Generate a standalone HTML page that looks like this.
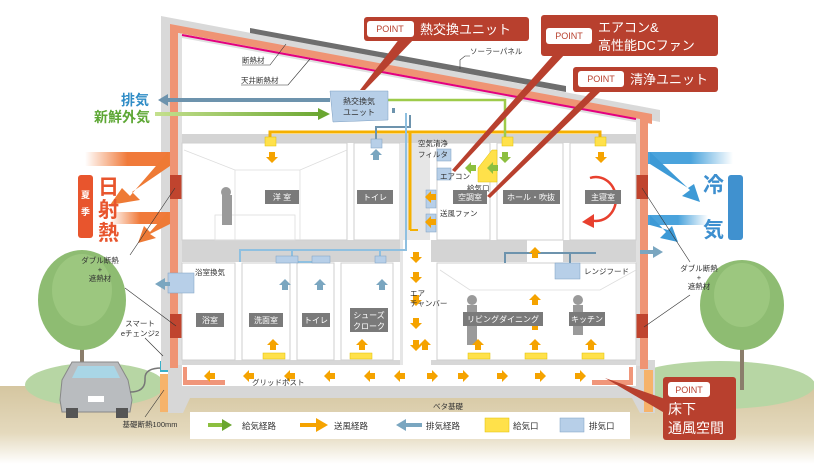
<!DOCTYPE html>
<html><head><meta charset="utf-8"><style>
html,body{margin:0;padding:0;background:#fff}
svg{display:block}
text{font-family:"Liberation Sans","Noto Sans CJK JP",sans-serif}
</style></head><body>
<svg width="814" height="464" viewBox="0 0 814 464" xmlns="http://www.w3.org/2000/svg">
<defs>
<linearGradient id="gnd" x1="0" y1="0" x2="0" y2="1"><stop offset="0" stop-color="#d5c6a0"/><stop offset="0.6" stop-color="#e4d9bd"/><stop offset="1" stop-color="#fff"/></linearGradient>
<linearGradient id="orL" x1="0" y1="0" x2="1" y2="0"><stop offset="0" stop-color="#f07a3a" stop-opacity="0"/><stop offset="0.5" stop-color="#f07a3a"/></linearGradient>
<linearGradient id="blR" x1="1" y1="0" x2="0" y2="0"><stop offset="0" stop-color="#4aa3dc" stop-opacity="0"/><stop offset="0.5" stop-color="#4aa3dc"/></linearGradient>
<linearGradient id="grn" x1="0" y1="0" x2="1" y2="0"><stop offset="0" stop-color="#c4e08e"/><stop offset="1" stop-color="#6aa630"/></linearGradient>
<path id="ad" d="M-3,0 L3,0 L3,5 L6,5 L0,11 L-6,5 L-3,5 Z"/>
</defs>
<!-- ground -->
<rect x="0" y="386" width="814" height="78" fill="url(#gnd)"/>
<ellipse cx="95" cy="385" rx="70" ry="22" fill="#b7d6a4"/>
<ellipse cx="720" cy="385" rx="95" ry="24" fill="#b7d6a4"/>
<rect x="80" y="300" width="4" height="90" fill="#8a7d6b"/>
<ellipse cx="82" cy="300" rx="44" ry="50" fill="#8ebc72"/>
<ellipse cx="82" cy="290" rx="30" ry="36" fill="#9cc77f"/>
<rect x="740" y="300" width="4" height="90" fill="#8a7d6b"/>
<ellipse cx="742" cy="305" rx="42" ry="45" fill="#8ebc72"/>
<ellipse cx="742" cy="295" rx="28" ry="32" fill="#9cc77f"/>
<!-- car -->
<path d="M62 380 L72 362 L118 362 L128 380 L132 400 L130 412 L62 412 L60 400 Z" fill="#b9bcbf" stroke="#888" stroke-width="1"/>
<path d="M72 378 L78 366 L114 366 L120 378 Z" fill="#a9d6e6"/>
<rect x="66" y="408" width="12" height="10" fill="#555"/><rect x="116" y="408" width="12" height="10" fill="#555"/>
<rect x="88" y="396" width="16" height="6" fill="#fff"/>
<path d="M130 392 Q145 392 145 380 L145 378 Q145 368 162 368" fill="none" stroke="#777" stroke-width="1.5"/>
<rect x="160" y="361" width="9" height="11" fill="#3ab0c8"/>
<rect x="160" y="374" width="8" height="38" fill="#f6b36b"/>

<!-- foundation -->
<path d="M168 360 L655 360 L655 413 L640 413 L632 398 L190 398 L183 413 L168 413 Z" fill="#d7d7d7"/>
<rect x="182" y="365" width="454" height="21" fill="#fff"/>
<path d="M183 367 L187 367 L187 380 L225 380 L225 385 L183 385 Z" fill="#f0967a"/>
<path d="M633 367 L629 367 L629 380 L592 380 L592 385 L633 385 Z" fill="#f0967a"/>
<rect x="644" y="370" width="9" height="42" fill="#f6b36b"/>

<!-- roof & walls -->
<polygon points="161,16 660,110 660,122 170,28 170,370 161,370" fill="#d9d9d9"/>
<polygon points="170,24 652,114 652,124 178,33 178,368 170,368" fill="#ef9474"/>
<rect x="640" y="114" width="8" height="255" fill="#ef9474"/>
<polygon points="178,33 640,119 640,123 182,38 182,365 178,365" fill="#e0e0e0"/>
<rect x="636" y="120" width="4" height="246" fill="#e0e0e0"/>
<polygon points="250,28 566,86 566,92 250,33" fill="#6e6e6e"/>
<line x1="182" y1="35" x2="636" y2="119" stroke="#e4007f" stroke-width="2"/>
<rect x="170" y="175" width="12" height="24" fill="#c0442e"/>
<rect x="170" y="314" width="12" height="24" fill="#c0442e"/>
<rect x="636" y="175" width="12" height="24" fill="#c0442e"/>
<rect x="636" y="314" width="12" height="24" fill="#c0442e"/>

<rect x="182" y="134" width="454" height="9" fill="#d4d4d4"/>
<rect x="182" y="240" width="454" height="22" fill="#d4d4d4"/>
<rect x="527" y="240" width="36" height="22" fill="#fff"/>
<g fill="#fff" stroke="#cfcfcf">
<rect x="182" y="143" width="165" height="97"/>
<rect x="354" y="143" width="46" height="97"/>
<rect x="437" y="143" width="53" height="97"/>
<rect x="497" y="143" width="66" height="97"/>
<rect x="570" y="143" width="66" height="97"/>
<rect x="182" y="263" width="53" height="97"/>
<rect x="242" y="263" width="48" height="97"/>
<rect x="297" y="263" width="37" height="97"/>
<rect x="341" y="263" width="52" height="97"/>
<rect x="437" y="263" width="199" height="97"/>
</g>
<rect x="400" y="143" width="30" height="222" fill="#e6e6e6"/>
<rect x="403" y="240" width="28" height="125" fill="#fff"/>
<g fill="none" stroke="#ddd" stroke-width="0.8">
<polyline points="184,150 235,170 300,170 347,150"/><line x1="235" y1="170" x2="235" y2="240"/><line x1="300" y1="170" x2="300" y2="240"/>
<rect x="215" y="215" width="80" height="25"/>
<polyline points="440,270 470,290 600,290 636,270"/>
</g>
<g fill="#9a9a9a">
<rect x="222" y="195" width="10" height="30"/><circle cx="226" cy="192" r="5"/>
<rect x="467" y="305" width="10" height="40"/><circle cx="472" cy="300" r="5"/>
<rect x="573" y="305" width="10" height="30"/><circle cx="578" cy="300" r="5"/>
</g>

<g fill="none" stroke-width="3">
<polyline points="270,145 270,132 600,132 600,145" stroke="#f5b000"/>
<polyline points="410,132 410,230" stroke="#f5b000"/>
<polyline points="410,230 418,230" stroke="#f5b000" stroke-width="2"/>
<polyline points="376,145 376,127 410,127 410,115" stroke="#6d93ad" stroke-width="2"/>
<polyline points="406,113 406,250 240,250 240,262" stroke="#8fc0e0" stroke-width="2"/>
<polyline points="292,250 292,262 322,262" stroke="#8fc0e0" stroke-width="2"/>
<polyline points="380,250 380,262" stroke="#8fc0e0" stroke-width="2"/>
<polyline points="388,100 505,100 505,138" stroke="#9ecb4a" stroke-width="2.5"/>
<polyline points="505,263 505,253 570,253 570,270" stroke="#6d93ad" stroke-width="2"/>
<polyline points="570,253 596,253" stroke="#6d93ad" stroke-width="2"/>
</g>
<g fill="#ffe14a" stroke="#e0c000" stroke-width="0.5">
<rect x="265" y="137" width="11" height="9"/><rect x="502" y="137" width="11" height="9"/><rect x="595" y="137" width="11" height="9"/>
<rect x="263" y="353" width="22" height="6"/><rect x="350" y="353" width="22" height="6"/>
<rect x="468" y="353" width="22" height="6"/><rect x="525" y="353" width="22" height="6"/><rect x="582" y="353" width="22" height="6"/>
<polygon points="478,168 492,150 497,150 497,182 478,182"/>
</g>
<g fill="#b7cfe8" stroke="#7d9fc2" stroke-width="0.5">
<rect x="371" y="139" width="11" height="9"/>
<rect x="276" y="256" width="22" height="7"/><rect x="312" y="256" width="18" height="7"/><rect x="375" y="256" width="11" height="7"/>
<rect x="437" y="149" width="14" height="12"/><rect x="437" y="168" width="14" height="12"/>
<rect x="426" y="190" width="10" height="18"/><rect x="426" y="214" width="10" height="18"/>
<rect x="168" y="273" width="26" height="20"/>
<rect x="555" y="263" width="25" height="16"/>
<path d="M330 91 L388 91 L388 120 L333 122 Z"/>
</g>
<text x="359" y="104" font-size="8" text-anchor="middle" fill="#333">熱交換気</text>
<text x="359" y="115" font-size="8" text-anchor="middle" fill="#333">ユニット</text>

<g fill="#f5a300">
<use href="#ad" x="272" y="152"/><use href="#ad" x="601" y="152"/>
<use href="#ad" x="416" y="252"/><use href="#ad" x="416" y="272"/><use href="#ad" x="416" y="295"/><use href="#ad" x="416" y="318"/><use href="#ad" x="416" y="340"/>
</g>
<g fill="#f5a300" transform="rotate(180)">
<use href="#ad" x="-425" y="-350"/><use href="#ad" x="-478" y="-350"/><use href="#ad" x="-535" y="-350"/><use href="#ad" x="-591" y="-350"/><use href="#ad" x="-535" y="-258"/><use href="#ad" x="-535" y="-305"/><use href="#ad" x="-535" y="-330"/><use href="#ad" x="-362" y="-350"/><use href="#ad" x="-273" y="-350"/>
</g>
<g fill="#f5a300">
<use href="#ad" transform="translate(215,376) rotate(90)"/><use href="#ad" transform="translate(254,376) rotate(90)"/><use href="#ad" transform="translate(295,376) rotate(90)"/><use href="#ad" transform="translate(335,376) rotate(90)"/><use href="#ad" transform="translate(375,376) rotate(90)"/><use href="#ad" transform="translate(405,376) rotate(90)"/>
<use href="#ad" transform="translate(458,376) rotate(-90)"/><use href="#ad" transform="translate(497,376) rotate(-90)"/><use href="#ad" transform="translate(535,376) rotate(-90)"/><use href="#ad" transform="translate(575,376) rotate(-90)"/><use href="#ad" transform="translate(427,376) rotate(-90)"/>
<use href="#ad" transform="translate(436,197) rotate(90)"/><use href="#ad" transform="translate(436,222) rotate(90)"/>
</g>
<g fill="#8cbf3f">
<use href="#ad" x="505" y="152"/>
<use href="#ad" transform="translate(498,168) rotate(90)"/><use href="#ad" transform="translate(476,168) rotate(90)"/>
</g>
<g fill="#7aa6c0">
<use href="#ad" transform="translate(376,160) rotate(180)"/>
<use href="#ad" transform="translate(285,290) rotate(180)"/><use href="#ad" transform="translate(320,290) rotate(180)"/><use href="#ad" transform="translate(382,290) rotate(180)"/>
</g>
<rect x="165" y="98" width="165" height="4" fill="#6d93ad"/>
<polygon points="158,100 168,94 168,106" fill="#6d93ad"/>
<rect x="155" y="112" width="170" height="4" fill="url(#grn)"/>
<polygon points="330,114 318,108 318,120" fill="#6aa630"/>
<rect x="392" y="108" width="3" height="5" fill="#6d93ad"/>
<polygon points="155,284 165,278 165,290" fill="#7aa6c0"/><rect x="165" y="282" width="5" height="4" fill="#7aa6c0"/>
<polygon points="663,252 653,246 653,258" fill="#7aa6c0"/><rect x="640" y="250" width="14" height="4" fill="#7aa6c0"/>

<path d="M590 178 A20 22 0 1 1 590 220" fill="none" stroke="#e8402e" stroke-width="2.5"/>
<polygon points="582,222 594,214 594,228" fill="#e8402e"/>

<rect x="85" y="152" width="85" height="14" fill="url(#orL)"/>
<polygon points="168,152 130,196 122,188 110,205 140,200 132,192 170,166" fill="#ee7a35"/>
<rect x="110" y="212" width="60" height="12" fill="url(#orL)"/>
<polygon points="168,212 150,232 144,226 138,243 156,238 150,234 170,224" fill="#ee7a35"/>
<rect x="78" y="175" width="15" height="63" rx="3" fill="#e8552d"/>
<text x="85.5" y="198" font-size="9" fill="#fff" text-anchor="middle" font-weight="bold">夏</text>
<text x="85.5" y="215" font-size="9" fill="#fff" text-anchor="middle" font-weight="bold">季</text>
<g font-size="21" fill="#e8552d" font-weight="bold"><text x="98" y="194">日</text><text x="98" y="217">射</text><text x="98" y="240">熱</text></g>
<rect x="648" y="152" width="85" height="12" fill="url(#blR)"/>
<polygon points="650,152 690,190 682,196 700,202 694,184 688,188 650,164" fill="#3d9ad6"/>
<rect x="648" y="215" width="60" height="10" fill="url(#blR)"/>
<polygon points="650,215 666,232 660,238 678,242 672,226 668,230 650,225" fill="#3d9ad6"/>
<rect x="728" y="175" width="15" height="65" rx="3" fill="#4091cf"/>
<g font-size="21" fill="#3d8fcf" font-weight="bold"><text x="703" y="192">冷</text><text x="703" y="237">気</text></g>

<text x="135" y="105" font-size="14" fill="#2f8cc6" font-weight="bold" text-anchor="middle">排気</text>
<text x="122" y="122" font-size="14" fill="#5da734" font-weight="bold" text-anchor="middle">新鮮外気</text>

<g font-size="7.5" fill="#333">
<text x="242" y="63">断熱材</text><text x="241" y="83">天井断熱材</text>
<text x="470" y="54">ソーラーパネル</text>
<text x="418" y="146">空気清浄</text><text x="418" y="157">フィルタ</text>
<text x="440" y="179">エアコン</text><text x="467" y="191">給気口</text>
<text x="440" y="216">送風ファン</text>
<text x="410" y="296">エア</text><text x="410" y="306">チャンバー</text>
<text x="195" y="275">浴室換気</text>
<text x="584" y="274">レンジフード</text>
<text x="100" y="263" text-anchor="middle">ダブル断熱</text><text x="100" y="272" text-anchor="middle">+</text><text x="100" y="281" text-anchor="middle">遮熱材</text>
<text x="699" y="271" text-anchor="middle">ダブル断熱</text><text x="699" y="280" text-anchor="middle">+</text><text x="699" y="289" text-anchor="middle">遮熱材</text>
<text x="140" y="326" text-anchor="middle">スマート</text><text x="140" y="336" text-anchor="middle">eチェンジ2</text>
<text x="150" y="427" text-anchor="middle">基礎断熱100mm</text>
<text x="252" y="385">グリッドポスト</text>
<text x="433" y="409">ベタ基礎</text>
</g>
<g stroke="#333" stroke-width="0.6" fill="none">
<polyline points="242,65 270,65 286,44"/><polyline points="241,85 288,85 310,59"/>
<polyline points="470,56 465,56 460,60 460,69"/>
<line x1="175" y1="188" x2="130" y2="255"/><line x1="176" y1="326" x2="125" y2="288"/>
<line x1="642" y1="188" x2="690" y2="262"/><line x1="644" y1="327" x2="690" y2="295"/>
<line x1="145" y1="338" x2="163" y2="356"/><line x1="164" y1="390" x2="145" y2="417"/>
</g>

<g fill="#7a7a7a">
<rect x="265" y="190" width="34" height="14"/><rect x="357" y="190" width="36" height="14"/><rect x="453" y="190" width="34" height="14"/>
<rect x="503" y="190" width="57" height="14"/><rect x="585" y="190" width="36" height="14"/>
<rect x="196" y="313" width="28" height="14"/><rect x="249" y="313" width="34" height="14"/><rect x="302" y="313" width="28" height="14"/>
<rect x="350" y="308" width="38" height="24"/><rect x="463" y="312" width="80" height="14"/><rect x="569" y="312" width="36" height="14"/>
</g>
<g font-size="8" fill="#fff" text-anchor="middle">
<text x="282" y="200">洋 室</text><text x="375" y="200">トイレ</text><text x="470" y="200">空調室</text>
<text x="531" y="200">ホール・吹抜</text><text x="603" y="200">主寝室</text>
<text x="210" y="323">浴室</text><text x="266" y="323">洗面室</text><text x="316" y="323">トイレ</text>
<text x="369" y="318">シューズ</text><text x="369" y="329">クローク</text>
<text x="503" y="322">リビングダイニング</text><text x="587" y="322">キッチン</text>
</g>

<rect x="190" y="412" width="440" height="27" fill="#fff"/>
<rect x="208" y="423" width="16" height="4" fill="#8cbf3f"/><polygon points="232,425 222,419 222,431" fill="#6aa630"/>
<rect x="300" y="423" width="16" height="4" fill="#f5a300"/><polygon points="328,425 316,418 316,432" fill="#f5a300"/>
<polygon points="396,425 406,419 406,431" fill="#7aa6c0"/><rect x="406" y="423" width="16" height="4" fill="#7aa6c0"/>
<rect x="485" y="418" width="24" height="14" fill="#ffe14a" stroke="#e0c000" stroke-width="0.5"/>
<rect x="560" y="418" width="24" height="14" fill="#b7cfe8" stroke="#7d9fc2" stroke-width="0.5"/>
<g font-size="8.5" fill="#333"><text x="242" y="429">給気経路</text><text x="334" y="429">送風経路</text><text x="426" y="429">排気経路</text><text x="513" y="429">給気口</text><text x="589" y="429">排気口</text></g>

<g fill="#b8402e">
<polygon points="400,38 415,38 365,90 360,90"/>
<polygon points="555,53 566,53 455,172 452,170"/>
<polygon points="592,90 602,90 490,198 487,196"/>
<polygon points="668,400 668,415 605,378"/>
<rect x="364" y="17" width="165" height="24" rx="3"/>
<rect x="541" y="15" width="177" height="41" rx="3"/>
<rect x="573" y="67" width="145" height="25" rx="3"/>
<rect x="663" y="377" width="73" height="63" rx="3"/>
</g>
<g fill="#fff">
<rect x="367" y="21" width="47" height="16" rx="3"/>
<rect x="546" y="28" width="46" height="16" rx="3"/>
<rect x="578" y="71" width="46" height="16" rx="3"/>
<rect x="668" y="382" width="42" height="15" rx="3"/>
</g>
<g font-size="9" fill="#b8402e" text-anchor="middle"><text x="390" y="32">POINT</text><text x="569" y="39">POINT</text><text x="601" y="82">POINT</text><text x="689" y="393">POINT</text></g>
<g font-size="13" fill="#fff">
<text x="420" y="34">熱交換ユニット</text>
<text x="598" y="32">エアコン&amp;</text><text x="598" y="50">高性能DCファン</text>
<text x="630" y="84">清浄ユニット</text>
<text x="668" y="414" font-size="14">床下</text><text x="668" y="433" font-size="14">通風空間</text>
</g>
</svg>
</body></html>
